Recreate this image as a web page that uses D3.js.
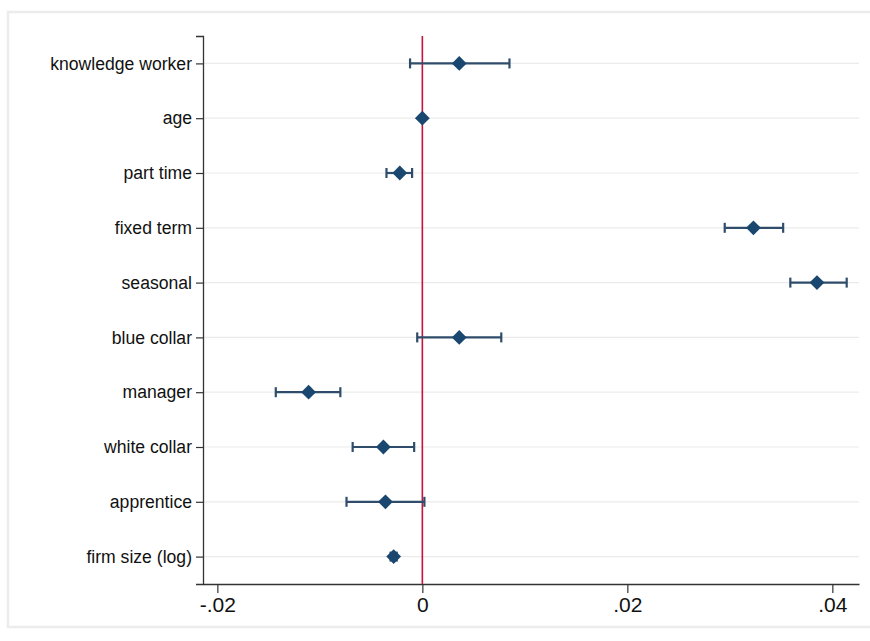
<!DOCTYPE html>
<html>
<head>
<meta charset="utf-8">
<script src="https://cdn.jsdelivr.net/npm/d3@7"></script>
<style>
  html, body { margin: 0; padding: 0; background: #fff; }
  svg { display: block; font-family: "Liberation Sans", Arial, sans-serif; }
</style>
</head>
<body>
<svg id="chart" width="870" height="641"></svg>
<script>
// Coefficient estimates with 95% confidence intervals
const categories = ["knowledge worker", "age", "part time", "fixed term", "seasonal",
                    "blue collar", "manager", "white collar", "apprentice", "firm size (log)"];
const estimates = [0.0036, 0.0000, -0.0022, 0.0323, 0.0385, 0.0036, -0.0111, -0.0038, -0.0036, -0.0028];
const ciLow     = [-0.0012, -0.00005, -0.0035, 0.0295, 0.0359, -0.0005, -0.0143, -0.0068, -0.0074, -0.0031];
const ciHigh    = [0.0085, 0.00005, -0.0010, 0.0352, 0.0414, 0.0077, -0.0080, -0.0008, 0.0002, -0.0025];
const xTicks = [-0.02, 0, 0.02, 0.04];
const xTickLabels = ["-.02", "0", ".02", ".04"];

const rows = categories.map((c, i) => ({ name: c, est: estimates[i], lo: ciLow[i], hi: ciHigh[i] }));

const svg = d3.select("#chart");
const plot = { left: 203, right: 859, top: 36, bottom: 584 };

// Light graph-region frame
svg.append("rect")
  .attr("x", 8).attr("y", 12)
  .attr("width", 880).attr("height", 615)
  .attr("fill", "#fff")
  .attr("stroke", "#ececec").attr("stroke-width", 2.5);

const x = d3.scaleLinear().domain([-0.0214, 0.0426]).range([plot.left, plot.right]);
const y = d3.scalePoint().domain(categories).range([plot.top, plot.bottom]).padding(0.5);

// Horizontal gridlines at each coefficient row
svg.append("g").selectAll("line").data(categories).join("line")
  .attr("x1", plot.left).attr("x2", plot.right)
  .attr("y1", d => y(d)).attr("y2", d => y(d))
  .attr("stroke", "#ebebeb").attr("stroke-width", 1.2);

// Y axis
const yAxis = svg.append("g")
  .attr("transform", `translate(${plot.left},0)`)
  .call(d3.axisLeft(y).tickSize(7).tickPadding(4));
yAxis.select(".domain").attr("stroke", "#333").attr("stroke-width", 1.3);
yAxis.selectAll(".tick line").attr("stroke", "#333").attr("stroke-width", 1.2);
yAxis.selectAll(".tick text")
  .attr("fill", "#111").style("font-size", "17.6px")
  .style("font-family", "'Liberation Sans', Arial, sans-serif");

// X axis
const xAxis = svg.append("g")
  .attr("transform", `translate(0,${plot.bottom})`)
  .call(d3.axisBottom(x).tickValues(xTicks)
        .tickFormat((d, i) => xTickLabels[i]).tickSize(9).tickPadding(4).tickSizeOuter(0));
xAxis.select(".domain").attr("stroke", "#333").attr("stroke-width", 1.3);
xAxis.selectAll(".tick line").attr("stroke", "#333").attr("stroke-width", 1.2);
xAxis.selectAll(".tick text")
  .attr("fill", "#111").style("font-size", "21px")
  .style("font-family", "'Liberation Sans', Arial, sans-serif");

// Zero reference line
svg.append("line")
  .attr("x1", x(0)).attr("x2", x(0))
  .attr("y1", plot.top).attr("y2", plot.bottom)
  .attr("stroke", "#c8123e").attr("stroke-width", 1.6);

// Confidence intervals with caps
const ciColor = "#2f4d6b";
const capH = 5;
const ci = svg.append("g").selectAll("g").data(rows).join("g");
ci.append("line")
  .attr("x1", d => x(d.lo)).attr("x2", d => x(d.hi))
  .attr("y1", d => y(d.name)).attr("y2", d => y(d.name))
  .attr("stroke", ciColor).attr("stroke-width", 2.2);
ci.append("line")
  .attr("x1", d => x(d.lo)).attr("x2", d => x(d.lo))
  .attr("y1", d => y(d.name) - capH).attr("y2", d => y(d.name) + capH)
  .attr("stroke", ciColor).attr("stroke-width", 2.2);
ci.append("line")
  .attr("x1", d => x(d.hi)).attr("x2", d => x(d.hi))
  .attr("y1", d => y(d.name) - capH).attr("y2", d => y(d.name) + capH)
  .attr("stroke", ciColor).attr("stroke-width", 2.2);

// Point estimates as diamonds
const diamond = d3.symbol().type(d3.symbolDiamond2).size(140);
svg.append("g").selectAll("path").data(rows).join("path")
  .attr("d", diamond)
  .attr("transform", d => `translate(${x(d.est)},${y(d.name)})`)
  .attr("fill", "#1a476f");
</script>
</body>
</html>
